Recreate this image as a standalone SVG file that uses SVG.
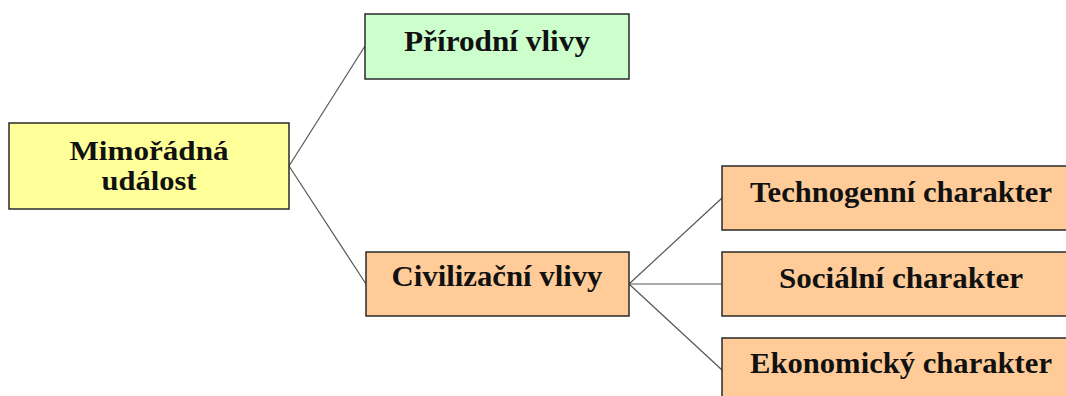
<svg xmlns="http://www.w3.org/2000/svg" width="1066" height="396" viewBox="0 0 1066 396">
<style>
.box{stroke:#2a2a2a;stroke-width:1.5}
.y{fill:#FFFF99}
.g{fill:#CCFFCC}
.o{fill:#FFCC99}
.t{font-family:"Liberation Serif","Times New Roman",serif;font-weight:bold;font-size:30px;fill:#111;text-anchor:middle}
.m{font-size:27px}
.c{stroke:#555;stroke-width:1.2;fill:none}
</style>
<rect width="1066" height="396" fill="#fff"/>
<g id="connectors">
<line class="c" x1="289" y1="166" x2="365" y2="46"/>
<line class="c" x1="289" y1="166" x2="366" y2="284"/>
<line class="c" x1="629" y1="284" x2="722" y2="198"/>
<line class="c" x1="629" y1="284" x2="722" y2="284"/>
<line class="c" x1="629" y1="284" x2="722" y2="370"/>
</g>
<g id="mimoradna">
<rect class="box y" x="9" y="123" width="280" height="86"/>
<text class="t m" x="149" y="160" textLength="159" lengthAdjust="spacingAndGlyphs">Mimořádná</text>
<text class="t m" x="149" y="190" textLength="95" lengthAdjust="spacingAndGlyphs">událost</text>
</g>
<g id="prirodni">
<rect class="box g" x="365" y="14" width="264" height="65"/>
<text class="t" x="497" y="51" textLength="186" lengthAdjust="spacingAndGlyphs">Přírodní vlivy</text>
</g>
<g id="civilizacni">
<rect class="box o" x="366" y="252" width="263" height="64"/>
<text class="t" x="497" y="286" textLength="211" lengthAdjust="spacingAndGlyphs">Civilizační vlivy</text>
</g>
<g id="technogenni">
<rect class="box o" x="722" y="166" width="358" height="64"/>
<text class="t" x="901" y="202" textLength="302" lengthAdjust="spacingAndGlyphs">Technogenní charakter</text>
</g>
<g id="socialni">
<rect class="box o" x="722" y="252" width="358" height="64"/>
<text class="t" x="901" y="288" textLength="244" lengthAdjust="spacingAndGlyphs">Sociální charakter</text>
</g>
<g id="ekonomicky">
<rect class="box o" x="722" y="338" width="358" height="64"/>
<text class="t" x="901" y="373" textLength="302" lengthAdjust="spacingAndGlyphs">Ekonomický charakter</text>
</g>
</svg>
